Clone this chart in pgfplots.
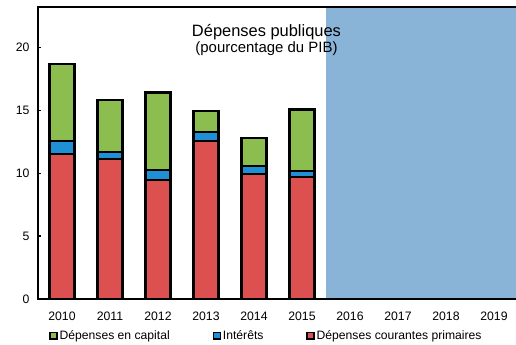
\documentclass[border=0pt]{standalone}
\usepackage{pgfplots}
\pgfplotsset{compat=1.18}
\usepackage{fontspec}
\setmainfont{Liberation Sans}
\definecolor{cred}{HTML}{DC5050}
\definecolor{cblue}{HTML}{1F8FD6}
\definecolor{cgreen}{HTML}{8CBD4F}
\definecolor{cshade}{HTML}{8AB3D8}
\begin{document}
\begin{tikzpicture}
\useasboundingbox (-38bp,-46bp) rectangle (478bp,299bp);
\begin{axis}[
  at={(0,0)}, anchor=south west,
  scale only axis, width=480bp, height=292bp,
  xmin=-0.5, xmax=9.5, ymin=0, ymax=23.2,
  ybar stacked, bar width=25bp,
  axis on top,
  axis line style={line width=1.8bp},
  xtick={0,...,9},
  xticklabels={2010,2011,2012,2013,2014,2015,2016,2017,2018,2019},
  ytick={0,5,10,15,20},
  ytick pos=left,
  x tick style={draw=none},
  y tick style={line width=1.2bp, black},
  tick align=inside, major tick length=3bp,
  tick label style={font=\fontsize{12.3}{14}\selectfont},
  /pgf/number format/assume math mode=true,
  xticklabel style={yshift=-9bp},
  yticklabel style={xshift=-5bp},
  legend style={at={(0.476,-0.1)}, anchor=north, draw=none, fill=none,
    legend columns=3, font=\fontsize{12.2}{14}\selectfont,
    /tikz/every even column/.append style={column sep=41bp},
    inner sep=0pt},
  legend cell align=left,
  legend image code/.code={\draw[#1, line width=1.4bp, draw=black] (1bp,-3.4bp) rectangle (7.8bp,3.4bp);},
]
\fill[cshade] (axis cs:5.5,0) rectangle (axis cs:9.8,23.2);
\addplot[fill=cred, draw=black, line width=2.2bp, forget plot] coordinates {(0,11.5) (1,11.1) (2,9.45) (3,12.55) (4,9.9) (5,9.7)};
\addplot[fill=cblue, draw=black, line width=2.2bp, forget plot] coordinates {(0,1.05) (1,0.6) (2,0.8) (3,0.7) (4,0.65) (5,0.5)};
\addplot[fill=cgreen, draw=black, line width=2.2bp, forget plot] coordinates {(0,6.1) (1,4.1) (2,6.15) (3,1.7) (4,2.25) (5,4.85)};
\addlegendimage{fill=cgreen}
\addlegendentry{Dépenses en capital}
\addlegendimage{fill=cblue}
\addlegendentry{Intérêts}
\addlegendimage{fill=cred}
\addlegendentry{Dépenses courantes primaires}
\coordinate (T) at (axis cs:4.26,21.85);
\coordinate (TL) at (axis cs:-0.5,23.2);
\coordinate (TR) at (axis cs:9.8,23.2);
\end{axis}
\draw[line width=1.8bp] (TL) -- (TR);
\node[align=center, font=\fontsize{16.5}{17}\selectfont, anchor=north, inner sep=0pt] at (T) {Dépenses publiques\\[-1pt]{\fontsize{15}{16}\selectfont (pourcentage du PIB)}};
\end{tikzpicture}
\end{document}
